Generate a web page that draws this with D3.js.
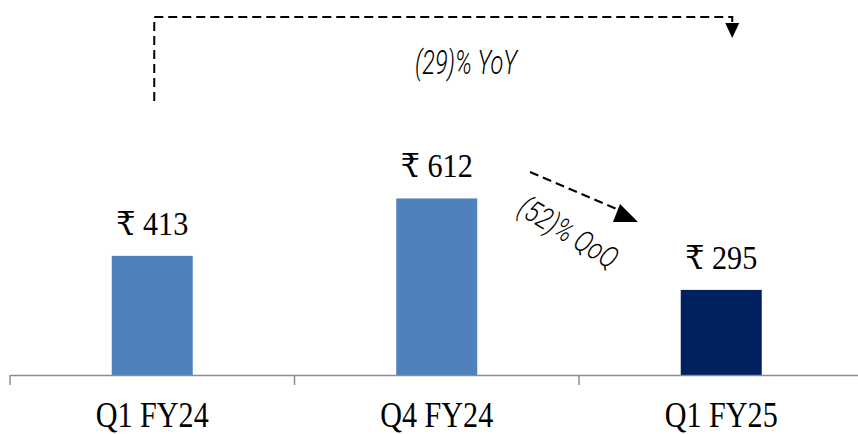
<!DOCTYPE html>
<html>
<head>
<meta charset="utf-8">
<script src="https://cdn.jsdelivr.net/npm/d3@7/dist/d3.min.js"></script>
<style>
  body { margin: 0; background: #fff; }
  svg { display: block; }
</style>
</head>
<body>
<svg id="chart" width="858" height="434"></svg>
<script>
// Quarterly values (₹)
const categories = ["Q1 FY24", "Q4 FY24", "Q1 FY25"];
const values = [413, 612, 295];
const barColors = ["#4f81bd", "#4f81bd", "#002060"];
const yoyLabel = "(29)% YoY";
const qoqLabel = "(52)% QoQ";

const svg = d3.select("#chart");
const baseline = 375;
const x = d3.scaleBand().domain(categories).range([10, 863.5]).paddingInner(0).paddingOuter(0);
const y = d3.scaleLinear().domain([0, 1000]).range([baseline, baseline - 288.5]);
const barW = 81;
const serif = "'Liberation Serif', 'DejaVu Serif', serif";
const narrow = "Roboto, 'Open Sans', sans-serif";

// bars
svg.selectAll("rect.bar").data(values).join("rect")
  .attr("class", "bar")
  .attr("x", (d, i) => x(categories[i]) + x.bandwidth() / 2 - barW / 2)
  .attr("y", d => y(d))
  .attr("width", barW)
  .attr("height", d => baseline - y(d))
  .attr("fill", (d, i) => barColors[i]);

// value labels
svg.selectAll("text.val").data(values).join("text")
  .attr("class", "val")
  .attr("x", (d, i) => x(categories[i]) + x.bandwidth() / 2)
  .attr("y", d => y(d) - 21)
  .attr("text-anchor", "middle")
  .attr("font-family", serif)
  .attr("font-size", 33)
  .attr("textLength", 72)
  .attr("lengthAdjust", "spacingAndGlyphs")
  .attr("fill", "#000")
  .text(d => "₹ " + d);

// category axis with ticks on the band boundaries
const baseAxis = d3.axisBottom(x).tickSize(0).tickSizeOuter(0).tickFormat("");
const gAxis = svg.append("g").attr("transform", `translate(0,${baseline})`).call(baseAxis);
gAxis.select(".domain").attr("stroke", "#8c8c8c").attr("stroke-width", 1.5);
gAxis.selectAll(".tick").remove();
const bounds = categories.map(c => x(c)).concat([x.range()[1]]);
gAxis.selectAll("line.b").data(bounds).join("line")
  .attr("class", "b")
  .attr("x1", d => d).attr("x2", d => d)
  .attr("y1", 0).attr("y2", 10)
  .attr("stroke", "#8c8c8c").attr("stroke-width", 1.5);

svg.selectAll("text.cat").data(categories).join("text")
  .attr("class", "cat")
  .attr("x", d => x(d) + x.bandwidth() / 2)
  .attr("y", 427)
  .attr("text-anchor", "middle")
  .attr("font-family", serif)
  .attr("font-size", 35)
  .attr("textLength", 113)
  .attr("lengthAdjust", "spacingAndGlyphs")
  .attr("fill", "#000")
  .text(d => d);

// YoY connector
const cx0 = x(categories[0]) + x.bandwidth() / 2 + 2;
const cx2 = x(categories[2]) + x.bandwidth() / 2 + 11;
svg.append("path")
  .attr("d", `M${cx0},101 L${cx0},17 L${cx2},17 L${cx2},22`)
  .attr("fill", "none")
  .attr("stroke", "#000")
  .attr("stroke-width", 2)
  .attr("stroke-dasharray", "9,5");
svg.append("path")
  .attr("d", `M${cx2 - 7},23 L${cx2 + 7},23 L${cx2},38 Z`)
  .attr("fill", "#000");

svg.append("text")
  .attr("x", 415).attr("y", 74)
  .attr("font-family", narrow)
  .attr("font-style", "italic")
  .attr("font-weight", 300)
  .attr("font-size", 33)
  .attr("textLength", 102)
  .attr("lengthAdjust", "spacingAndGlyphs")
  .attr("fill", "#000")
  .text(yoyLabel);

// QoQ connector
svg.append("line")
  .attr("x1", 530).attr("y1", 172)
  .attr("x2", 626).attr("y2", 213)
  .attr("stroke", "#000")
  .attr("stroke-width", 2)
  .attr("stroke-dasharray", "9,5");
svg.append("path")
  .attr("d", "M620,204 L638,222 L613,222 Z")
  .attr("fill", "#000");

svg.append("text")
  .attr("transform", "translate(516,213) rotate(31)")
  .attr("font-family", narrow)
  .attr("font-style", "italic")
  .attr("font-weight", 300)
  .attr("font-size", 30)
  .attr("textLength", 110)
  .attr("lengthAdjust", "spacingAndGlyphs")
  .attr("fill", "#000")
  .text(qoqLabel);
</script>
</body>
</html>
